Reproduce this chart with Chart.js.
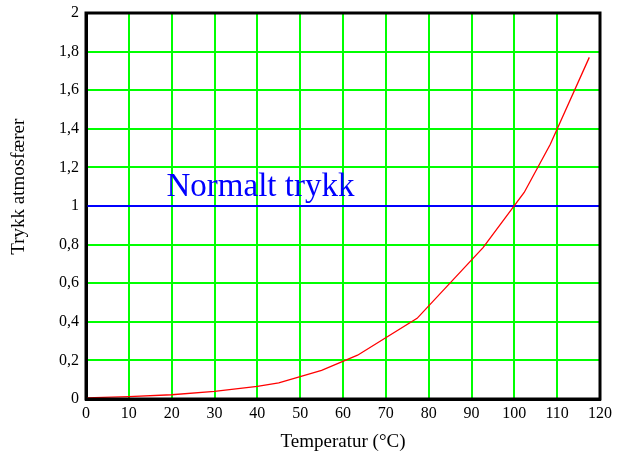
<!DOCTYPE html>
<html>
<head>
<meta charset="utf-8">
<script src="https://cdn.jsdelivr.net/npm/chart.js@4"></script>
<style>
  html, body { margin: 0; padding: 0; background: #fff; }
  #wrap { width: 617px; height: 455px; }
</style>
</head>
<body>
<div id="wrap"><canvas id="chart"></canvas></div>
<script>
// Damptrykk for vann (lest av figuren)
const temperatur = [0, 10, 20, 30, 40, 45, 55, 63.4, 77.3, 92.7, 102.3, 108.4, 117.5];
const trykk = [0.006, 0.012, 0.022, 0.04, 0.065, 0.083, 0.148, 0.227, 0.418, 0.784, 1.07, 1.32, 1.77];
const normaltX = [0, 120];
const normaltY = [1, 1];
const normaltLabel = 'Normalt trykk';
const yTittel = 'Trykk atmosfærer';

const serif = "'Liberation Serif', 'Times New Roman', serif";

const frame = {
  id: 'frame',
  afterDraw(chart) {
    const {ctx, chartArea: a, scales} = chart;
    ctx.save();
    ctx.strokeStyle = '#000';
    ctx.lineWidth = 3;
    ctx.strokeRect(a.left, a.top, a.right - a.left, a.bottom - a.top);
    ctx.fillStyle = '#0000ff';
    ctx.font = '33px ' + serif;
    ctx.textBaseline = 'alphabetic';
    ctx.fillText(normaltLabel, scales.x.getPixelForValue(18.8), scales.y.getPixelForValue(1) - 10);
    // y-aksetittel, litt over midten som i originalen
    ctx.fillStyle = '#000';
    ctx.font = '19px ' + serif;
    ctx.textAlign = 'center';
    ctx.textBaseline = 'middle';
    ctx.translate(19, scales.y.getPixelForValue(1.1));
    ctx.rotate(-Math.PI / 2);
    ctx.fillText(yTittel, 0, 0);
    ctx.restore();
  }
};

new Chart(document.getElementById('chart'), {
  type: 'scatter',
  data: {
    datasets: [
      {
        data: temperatur.map((t, i) => ({x: t, y: trykk[i]})),
        showLine: true,
        borderColor: '#ff0000',
        borderWidth: 1.3,
        pointRadius: 0,
        tension: 0
      },
      {
        data: normaltX.map((t, i) => ({x: t, y: normaltY[i]})),
        showLine: true,
        borderColor: '#0000ff',
        borderWidth: 2,
        pointRadius: 0
      }
    ]
  },
  plugins: [frame],
  options: {
    responsive: true,
    maintainAspectRatio: false,
    animation: false,
    layout: {padding: {left: 52, right: 6, top: 0, bottom: 2}},
    plugins: {legend: {display: false}, tooltip: {enabled: false}},
    scales: {
      x: {
        type: 'linear',
        min: 0, max: 120,
        ticks: {stepSize: 10, color: '#000', font: {family: serif, size: 16}, padding: 5},
        grid: {color: '#00ff00', lineWidth: 2, drawTicks: false},
        border: {color: '#000', width: 3},
        title: {display: true, text: 'Temperatur (°C)', color: '#000', font: {family: serif, size: 19}, padding: {top: 2, bottom: 0}}
      },
      y: {
        min: 0, max: 2,
        afterFit: s => { s.paddingTop = 13; },
        ticks: {
          stepSize: 0.2, color: '#000', font: {family: serif, size: 16}, padding: 7,
          callback: v => String(Math.round(v * 10) / 10).replace('.', ',')
        },
        grid: {color: '#00ff00', lineWidth: 2, drawTicks: false},
        border: {color: '#000', width: 3}
      }
    }
  }
});
</script>
</body>
</html>
